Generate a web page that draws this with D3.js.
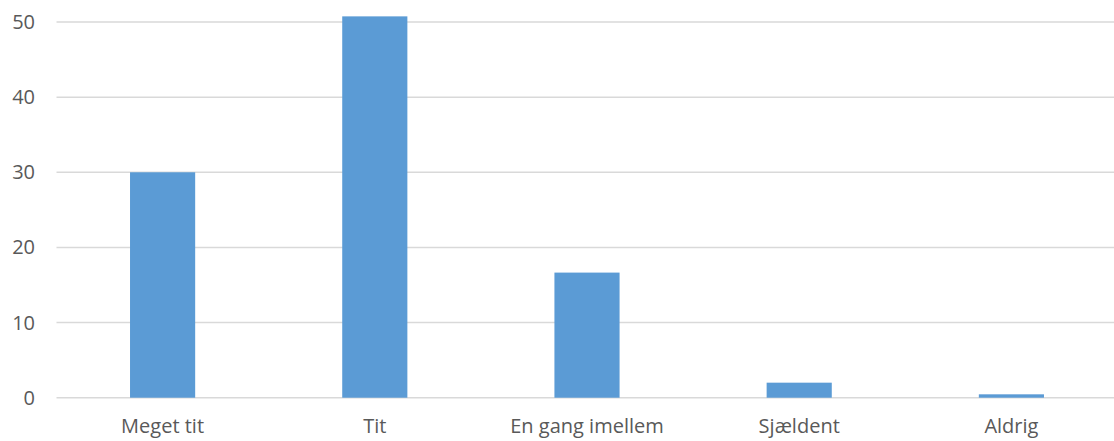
<!DOCTYPE html>
<html><head><meta charset="utf-8">
<script src="https://cdn.jsdelivr.net/npm/d3@7"></script>
<style>html,body{margin:0;padding:0;background:#fff;overflow:hidden}</style>
</head><body>
<svg id="c" width="1114" height="441"></svg>
<script>
const categories = ["Meget tit", "Tit", "En gang imellem", "Sjældent", "Aldrig"];
const values = [30, 50.75, 16.65, 2.0, 0.45];
const yTicks = [0, 10, 20, 30, 40, 50];

const svg = d3.select("#c");
const x = d3.scaleBand().domain(categories).range([56.5, 1117.5]).paddingInner(0.693).paddingOuter(0.3465);
const y = d3.scaleLinear().domain([0, 50]).range([397.7, 22]);

const font = "'Open Sans', sans-serif";
const g = svg.append("g");
g.selectAll("line.grid").data(yTicks).join("line")
  .attr("x1", 56.5).attr("x2", 1114)
  .attr("y1", d => y(d)).attr("y2", d => y(d))
  .attr("stroke", "#d9d9d9").attr("stroke-width", 1.5);
g.selectAll("text.yl").data(yTicks).join("text")
  .attr("x", 35).attr("y", d => y(d)).attr("dy", "0.35em")
  .attr("text-anchor", "end").attr("font-family", font).attr("font-size", 20)
  .attr("fill", "#595959").text(d => d);
g.selectAll("rect").data(values).join("rect")
  .attr("x", (d, i) => x(categories[i])).attr("width", x.bandwidth())
  .attr("y", d => y(d)).attr("height", d => y(0) - y(d))
  .attr("fill", "#5b9bd5");
g.selectAll("text.xl").data(categories).join("text")
  .attr("x", d => x(d) + x.bandwidth() / 2).attr("y", 433)
  .attr("text-anchor", "middle").attr("font-family", font).attr("font-size", 20)
  .attr("fill", "#595959").text(d => d);
</script>
</body></html>
